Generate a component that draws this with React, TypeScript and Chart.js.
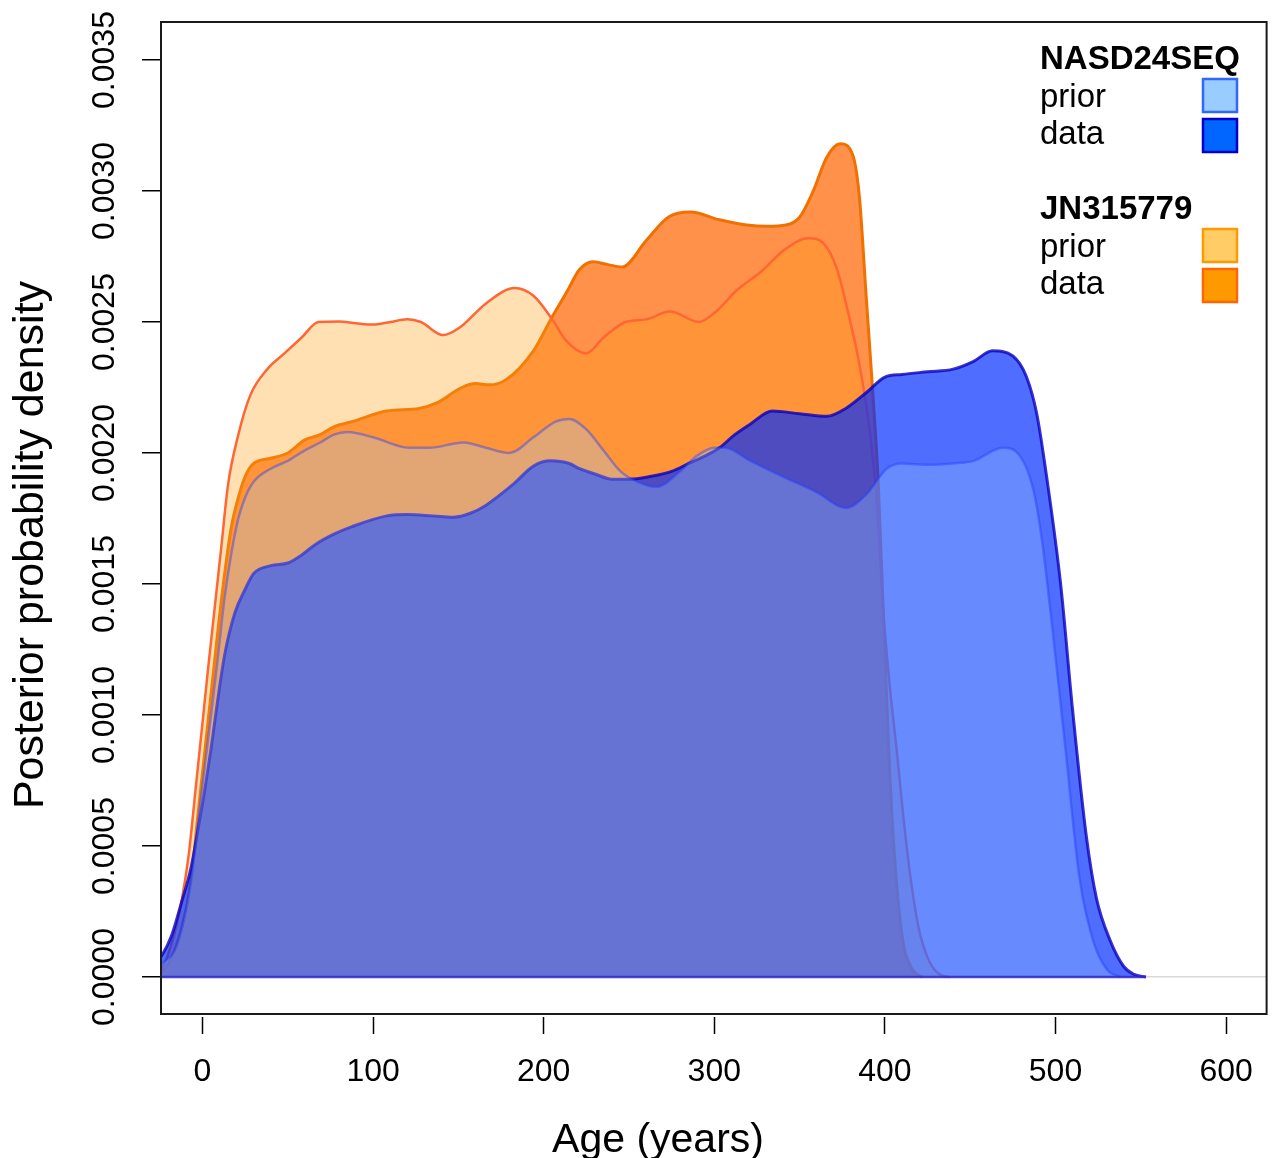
import { useEffect, useRef } from 'react';
import { Chart, registerables } from 'chart.js';

Chart.register(...registerables);

const FONT = "'Liberation Sans', Arial, Helvetica, sans-serif";

// Axis ticks
const xTickValues = [0, 100, 200, 300, 400, 500, 600];
const yTickValues = [0, 0.0005, 0.001, 0.0015, 0.002, 0.0025, 0.003, 0.0035];

// JN315779 – data
const jnDataAge = [-30, -24, -20, -12.5, -6.6, -3, 1, 5, 9, 13, 17, 21, 25, 30, 40, 50, 60, 69, 77, 88, 108, 127, 137, 152, 160, 168, 178, 194, 205, 214, 221, 229, 237, 246, 260, 273, 286, 303, 319, 331, 342, 350, 358, 366, 374, 381, 385, 389, 393, 396, 399, 402, 405, 410, 416, 422];
const jnDataDensity = [0.000005, 0.00002, 0.00005, 0.00018, 0.00037, 0.0006, 0.00084, 0.00108, 0.00132, 0.00154, 0.00172, 0.00183, 0.00191, 0.00196, 0.00198, 0.002, 0.00205, 0.00207, 0.0021, 0.00212, 0.00216, 0.00217, 0.00219, 0.00225, 0.002265, 0.00226, 0.00228, 0.00239, 0.00252, 0.00262, 0.0027, 0.00273, 0.00272, 0.00271, 0.00281, 0.0029, 0.00292, 0.00289, 0.00287, 0.002865, 0.00287, 0.0029, 0.003, 0.00313, 0.00318, 0.00314, 0.00298, 0.0026, 0.00222, 0.0019, 0.0014, 0.0009, 0.00052, 0.00016, 0.00003, 0];

// JN315779 – prior
const jnPriorAge = [-30, -24, -18, -12, -8, -4, 0, 3, 7, 11, 15, 21, 28, 38, 48, 58, 68, 80, 90, 100, 110, 120, 128, 141, 151, 166, 183, 194, 205, 213, 225, 235, 248, 260, 274, 291, 301, 313, 327, 342, 355, 364, 372, 379, 385, 391, 395, 399, 403, 407, 411, 415, 420, 426, 432, 438];
const jnPriorDensity = [0.00001, 0.00003, 0.00013, 0.0003, 0.00047, 0.00072, 0.00097, 0.00116, 0.0014, 0.00164, 0.00188, 0.00207, 0.00222, 0.00232, 0.00238, 0.00244, 0.0025, 0.002502, 0.002495, 0.00249, 0.0025, 0.00251, 0.0025, 0.00245, 0.00248, 0.00257, 0.00263, 0.0026, 0.00251, 0.00243, 0.00238, 0.00244, 0.0025, 0.00251, 0.00254, 0.0025, 0.00254, 0.00262, 0.00269, 0.00278, 0.00282, 0.0028, 0.0027, 0.00252, 0.00234, 0.00209, 0.00183, 0.0014, 0.0011, 0.00086, 0.0006, 0.00038, 0.00018, 0.00006, 0.00001, 0];

// NASD24SEQ – data
const nasdDataAge = [-30, -24, -18, -12.5, -6.6, -3, 1, 5, 9, 13, 19, 25, 30, 40, 50, 58, 66, 77, 88, 108, 120, 135, 147, 157, 166, 182, 194, 204, 215, 221, 230, 240, 250, 262, 275, 285, 295, 303, 312, 321, 334, 350, 366, 377, 389, 400, 410, 425, 440, 452, 463, 475, 483, 489, 495, 503, 510, 518, 524, 532, 540, 546, 553];
const nasdDataDensity = [0.00004, 0.00008, 0.00016, 0.00028, 0.00042, 0.00055, 0.0007, 0.00087, 0.00106, 0.00123, 0.00139, 0.00148, 0.00154, 0.00157, 0.00158, 0.00161, 0.00165, 0.00169, 0.00172, 0.00176, 0.001765, 0.00176, 0.001755, 0.00177, 0.0018, 0.00188, 0.00195, 0.00197, 0.00196, 0.00194, 0.00192, 0.0019, 0.0019, 0.00191, 0.00193, 0.00196, 0.00199, 0.00202, 0.00207, 0.00211, 0.00216, 0.00215, 0.00214, 0.00217, 0.00223, 0.00229, 0.0023, 0.00231, 0.00232, 0.00235, 0.00239, 0.00237, 0.00229, 0.00215, 0.0019, 0.0015, 0.00102, 0.00054, 0.0003, 0.00014, 0.00004, 0.00001, 0];

// NASD24SEQ – prior
const nasdPriorAge = [-30, -24, -14.5, -6.6, -1, 5, 9, 13, 17, 21, 25, 30, 40, 50, 60, 69, 77, 85, 100, 121, 133, 153, 166, 180, 194, 207, 215, 225, 235, 245, 255, 266, 280, 290, 300, 306, 321, 340, 360, 377, 389, 401, 410, 425, 440, 452, 469, 479, 487, 492, 498, 506, 514, 522, 530, 538];
const nasdPriorDensity = [0.00002, 0.00005, 0.00013, 0.00037, 0.00068, 0.001, 0.00122, 0.00145, 0.00162, 0.00175, 0.00183, 0.00189, 0.00194, 0.00197, 0.00201, 0.00204, 0.00207, 0.00208, 0.00206, 0.00202, 0.00202, 0.00204, 0.00202, 0.002, 0.00206, 0.00212, 0.00213, 0.00209, 0.00201, 0.00193, 0.00189, 0.00187, 0.00193, 0.00199, 0.00202, 0.00202, 0.00197, 0.00191, 0.00185, 0.00179, 0.00184, 0.00194, 0.00196, 0.001955, 0.00196, 0.00197, 0.00202, 0.00199, 0.00186, 0.00167, 0.00134, 0.00086, 0.00038, 0.00014, 0.00003, 0];

// Common baseline of the density polygons
const baselineAge = [-30, 553];
const baselineDensity = [0, 0];

// Legend
const legendGroups = ['NASD24SEQ', 'JN315779'];
const legendLabels = ['prior', 'data'];
const legendFills = [['#99ccff', '#0066ff'], ['#ffcc66', '#ff9900']];
const legendBorders = [['#3366ff', '#0000cc'], ['#ff9900', '#ff6600']];

const toPoints = (xs: number[], ys: number[]) => xs.map((x, i) => ({ x, y: ys[i] }));

const framePlugin = {
  id: 'frameAndLegend',
  afterDraw(chart: any) {
    const ctx = chart.ctx as CanvasRenderingContext2D;
    const { left, top, right, bottom } = chart.chartArea;
    ctx.save();
    // plot box
    ctx.strokeStyle = '#1a1a1a';
    ctx.lineWidth = 2;
    ctx.strokeRect(left, top, right - left, bottom - 3 - top);

    // axis titles
    ctx.fillStyle = '#000';
    ctx.textAlign = 'center';
    ctx.textBaseline = 'alphabetic';
    ctx.font = `41px ${FONT}`;
    ctx.fillText('Age (years)', 658, 1152);
    ctx.save();
    ctx.translate(43, 545);
    ctx.rotate(-Math.PI / 2);
    ctx.font = `43px ${FONT}`;
    ctx.fillText('Posterior probability density', 0, 0);
    ctx.restore();

    // legend
    const textX = 1040;
    const boxX = 1203;
    const boxW = 34;
    const boxH = 33;
    const groupBaselines = [69, 219];
    ctx.textAlign = 'left';
    legendGroups.forEach((g, gi) => {
      const gb = groupBaselines[gi];
      ctx.font = `bold 33px ${FONT}`;
      ctx.fillStyle = '#000';
      ctx.fillText(g, textX, gb);
      legendLabels.forEach((lab, li) => {
        ctx.font = `33px ${FONT}`;
        ctx.fillStyle = '#000';
        ctx.fillText(lab, textX, gb + 38 + li * 37);
        const by = gb + 10 + li * 40;
        ctx.fillStyle = legendFills[gi][li];
        ctx.fillRect(boxX, by, boxW, boxH);
        ctx.strokeStyle = legendBorders[gi][li];
        ctx.lineWidth = 2.5;
        ctx.strokeRect(boxX, by, boxW, boxH);
      });
    });
    ctx.restore();
  },
};

export default function App() {
  const canvasRef = useRef<HTMLCanvasElement | null>(null);

  useEffect(() => {
    const canvas = canvasRef.current;
    if (!canvas) return;
    const common = { pointRadius: 0, pointHoverRadius: 0, fill: 'origin', cubicInterpolationMode: 'monotone' as const };
    const chart = new Chart(canvas, {
      type: 'line',
      data: {
        datasets: [
          {
            label: 'JN315779 data',
            data: toPoints(jnDataAge, jnDataDensity),
            order: 4,
            backgroundColor: 'rgba(255,100,0,0.71)',
            borderColor: '#f07000',
            borderWidth: 3,
            ...common,
          },
          {
            label: 'JN315779 prior',
            data: toPoints(jnPriorAge, jnPriorDensity),
            order: 3,
            backgroundColor: 'rgba(255,158,19,0.32)',
            borderColor: '#ff6633',
            borderWidth: 2.5,
            ...common,
          },
          {
            label: 'NASD24SEQ data',
            data: toPoints(nasdDataAge, nasdDataDensity),
            order: 2,
            backgroundColor: 'rgba(0,45,255,0.69)',
            borderColor: 'rgba(10,0,190,0.8)',
            borderWidth: 3,
            ...common,
          },
          {
            label: 'NASD24SEQ prior',
            data: toPoints(nasdPriorAge, nasdPriorDensity),
            order: 1,
            backgroundColor: 'rgba(160,206,255,0.30)',
            borderColor: 'rgba(30,60,255,0.42)',
            borderWidth: 2.5,
            ...common,
          },
          {
            label: 'baseline',
            data: toPoints(baselineAge, baselineDensity),
            order: 0,
            borderColor: 'rgba(50,40,205,0.85)',
            borderWidth: 2.5,
            pointRadius: 0,
            fill: false,
          },
        ],
      },
      options: {
        animation: false,
        responsive: true,
        maintainAspectRatio: false,
        events: [],
        layout: { padding: { left: 0, right: 5, top: 22, bottom: 0 } },
        plugins: { legend: { display: false }, tooltip: { enabled: false } },
        scales: {
          x: {
            type: 'linear',
            min: -24.32,
            max: 623.73,
            afterBuildTicks: (s: any) => {
              s.ticks = xTickValues.map((v) => ({ value: v }));
            },
            afterFit: (s: any) => {
              s.height = 141;
            },
            grid: { drawOnChartArea: false, drawTicks: true, tickLength: 17, tickColor: '#000', tickWidth: 1.5 },
            border: { display: false },
            ticks: {
              font: { family: FONT, size: 32 },
              color: '#000',
              padding: 19,
              maxRotation: 0,
              minRotation: 0,
              autoSkip: false,
              callback: (v: any) => String(v),
            },
          },
          y: {
            type: 'linear',
            min: -0.00015267,
            max: 0.003645,
            afterBuildTicks: (s: any) => {
              s.ticks = yTickValues.map((v) => ({ value: v }));
            },
            afterFit: (s: any) => {
              s.width = 161;
            },
            grid: {
              drawOnChartArea: true,
              color: (c: any) => (c.tick && Math.abs(c.tick.value) < 1e-9 ? '#d9d9d9' : 'rgba(0,0,0,0)'),
              lineWidth: 1.5,
              tickColor: '#000',
              tickLength: 19,
              tickWidth: 1.5,
            },
            border: { display: false },
            ticks: {
              font: { family: FONT, size: 32 },
              color: '#000',
              padding: -12.4,
              crossAlign: 'center',
              minRotation: 90,
              maxRotation: 90,
              autoSkip: false,
              callback: (v: any) => Number(v).toFixed(4),
            },
          },
        },
      } as any,
      plugins: [framePlugin],
    });
    return () => chart.destroy();
  }, []);

  return (
    <div style={{ position: 'fixed', left: 0, top: 0, width: 1272, height: 1158, background: '#fff' }}>
      <canvas ref={canvasRef} />
    </div>
  );
}
